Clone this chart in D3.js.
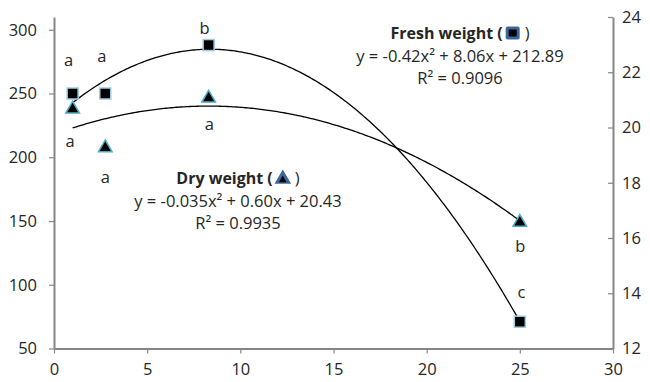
<!DOCTYPE html>
<html>
<head>
<meta charset="utf-8">
<script src="https://cdn.jsdelivr.net/npm/d3@7"></script>
<style>
  body { margin: 0; background: #fff; }
  text { font-family: 'Open Sans', Lato, 'Liberation Sans', sans-serif; fill: #262626; }
</style>
</head>
<body>
<div id="chart"></div>
<script>
// data
const doses = [1, 2.75, 8.3, 25]
const freshWeight = [250, 250, 288, 71]
const dryWeight = [20.7, 19.3, 21.1, 16.6]
const freshLetters = ['a', 'a', 'b', 'c']
const dryLetters = ['a', 'a', 'a', 'b']
const xTicks = [0, 5, 10, 15, 20, 25, 30]
const leftTicks = [50, 100, 150, 200, 250, 300]
const rightTicks = [12, 14, 16, 18, 20, 22, 24]
const freshText = ['Fresh weight (', 'y = -0.42x² + 8.06x + 212.89', 'R² = 0.9096']
const dryText = ['Dry weight (', 'y = -0.035x² + 0.60x + 20.43', 'R² = 0.9935']

// layout
const width = 650
const height = 382
const margin = { top: 17, right: 37, bottom: 33.5, left: 54 }
const freshLabelOffset = [[-4, -33], [-3.5, -37], [-4, -17], [1.5, -30]]
const dryLabelOffset = [[-2.6, 33.5], [0, 30], [0.6, 27], [0.5, 25]]

const svg = d3.select('#chart').append('svg').attr('width', width).attr('height', height)

const x = d3.scaleLinear().domain([0, 30]).range([margin.left, width - margin.right])
const yL = d3.scaleLinear().domain([50, 310]).range([height - margin.bottom, margin.top])
const yR = d3.scaleLinear().domain([12, 24]).range([height - margin.bottom, margin.top])

const axisColor = '#868686'
const fontSize = '16.5px'

// least squares quadratic, like the spreadsheet trendline
function quadFit(xs, ys) {
  const S = [0, 0, 0, 0, 0]
  const T = [0, 0, 0]
  xs.forEach((xv, i) => {
    for (let k = 0; k < 5; k++) S[k] += Math.pow(xv, k)
    for (let k = 0; k < 3; k++) T[k] += ys[i] * Math.pow(xv, k)
  })
  const M = [[S[4], S[3], S[2]], [S[3], S[2], S[1]], [S[2], S[1], S[0]]]
  const v = [T[2], T[1], T[0]]
  const det = (m) =>
    m[0][0] * (m[1][1] * m[2][2] - m[1][2] * m[2][1]) -
    m[0][1] * (m[1][0] * m[2][2] - m[1][2] * m[2][0]) +
    m[0][2] * (m[1][0] * m[2][1] - m[1][1] * m[2][0])
  const D = det(M)
  return [0, 1, 2].map((c) => det(M.map((row, r) => row.map((val, j) => (j === c ? v[r] : val)))) / D)
}

// axes
svg.append('g')
  .attr('transform', `translate(0,${height - margin.bottom})`)
  .call(d3.axisBottom(x).tickValues(xTicks).tickSize(5).tickSizeOuter(0).tickPadding(10))
svg.append('g')
  .attr('transform', `translate(${margin.left},0)`)
  .call(d3.axisLeft(yL).tickValues(leftTicks).tickSize(5).tickSizeOuter(0).tickPadding(12))
svg.append('g')
  .attr('transform', `translate(${width - margin.right},0)`)
  .call(d3.axisRight(yR).tickValues(rightTicks).tickSize(-5).tickSizeOuter(0).tickPadding(9))

svg.selectAll('.domain').attr('stroke', axisColor).attr('stroke-width', 2)
svg.selectAll('.tick line').attr('stroke', axisColor).attr('stroke-width', 1.2)
svg.selectAll('.tick text').style('font-size', fontSize).attr('fill', '#262626')
  .style('font-family', "'Open Sans', Lato, 'Liberation Sans', sans-serif")

// trendlines
const xs = d3.range(d3.min(doses), d3.max(doses) + 0.001, 0.1)
function trend(vals, yScale) {
  const [a, b, c] = quadFit(doses, vals)
  svg.append('path')
    .datum(xs)
    .attr('fill', 'none')
    .attr('stroke', '#000')
    .attr('stroke-width', 1.3)
    .attr('d', d3.line().x((d) => x(d)).y((d) => yScale(a * d * d + b * d + c)))
}
trend(freshWeight, yL)
trend(dryWeight, yR)

// markers
const tri = d3.symbol().type(d3.symbolTriangle).size(80)
svg.append('g').selectAll('path')
  .data(doses)
  .join('path')
  .attr('transform', (d, i) => `translate(${x(d)},${yR(dryWeight[i]) + 1})`)
  .attr('d', tri)
  .attr('fill', '#000')
  .attr('stroke', '#4bacc6')
  .attr('stroke-width', 1.5)

svg.append('g').selectAll('rect')
  .data(doses)
  .join('rect')
  .attr('x', (d) => x(d) - 5.5)
  .attr('y', (d, i) => yL(freshWeight[i]) - 5.5)
  .attr('width', 11)
  .attr('height', 11)
  .attr('fill', '#000')
  .attr('stroke', '#9fcbe0')
  .attr('stroke-width', 1.5)

// letters
svg.append('g').selectAll('text')
  .data(doses)
  .join('text')
  .attr('x', (d, i) => x(d) + freshLabelOffset[i][0])
  .attr('y', (d, i) => yL(freshWeight[i]) + freshLabelOffset[i][1])
  .attr('dy', '0.35em')
  .attr('text-anchor', 'middle')
  .style('font-size', fontSize)
  .text((d, i) => freshLetters[i])

svg.append('g').selectAll('text')
  .data(doses)
  .join('text')
  .attr('x', (d, i) => x(d) + dryLabelOffset[i][0])
  .attr('y', (d, i) => yR(dryWeight[i]) + dryLabelOffset[i][1])
  .attr('dy', '0.35em')
  .attr('text-anchor', 'middle')
  .style('font-size', fontSize)
  .text((d, i) => dryLetters[i])

// annotation blocks
function annotation(lines, cx, cy, icon) {
  const g = svg.append('g')
  const t1 = g.append('text').attr('y', cy).attr('dy', '0.35em')
    .style('font-size', '16px').style('font-weight', 'bold').text(lines[0])
  const t2 = g.append('text').attr('y', cy).attr('dy', '0.35em')
    .style('font-size', fontSize).text(')')
  const w1 = t1.node().getComputedTextLength()
  const w2 = t2.node().getComputedTextLength()
  const iconW = 14
  const total = w1 + 3 + iconW + 5 + w2
  const x0 = cx - total / 2
  t1.attr('x', x0)
  t2.attr('x', x0 + w1 + 3 + iconW + 5)
  const ix = x0 + w1 + 3 + iconW / 2
  if (icon === 'square') {
    g.append('rect').attr('x', ix - 7).attr('y', cy - 6.5).attr('width', 14).attr('height', 13)
      .attr('rx', 2).attr('fill', '#3d679b')
    g.append('rect').attr('x', ix - 4).attr('y', cy - 3.5).attr('width', 8).attr('height', 7).attr('fill', '#000')
  } else {
    g.append('path').attr('transform', `translate(${ix},${cy + 1})`)
      .attr('d', d3.symbol().type(d3.symbolTriangle).size(120)).attr('fill', '#3d679b')
    g.append('path').attr('transform', `translate(${ix},${cy + 2})`)
      .attr('d', d3.symbol().type(d3.symbolTriangle).size(25)).attr('fill', '#000')
  }
  g.append('text').attr('x', cx).attr('y', cy + 23).attr('dy', '0.35em').attr('text-anchor', 'middle')
    .style('font-size', fontSize).text(lines[1])
  g.append('text').attr('x', cx).attr('y', cy + 45).attr('dy', '0.35em').attr('text-anchor', 'middle')
    .style('font-size', fontSize).text(lines[2])
}
annotation(freshText, 460, 33, 'square')
annotation(dryText, 238, 178, 'triangle')
</script>
</body>
</html>
